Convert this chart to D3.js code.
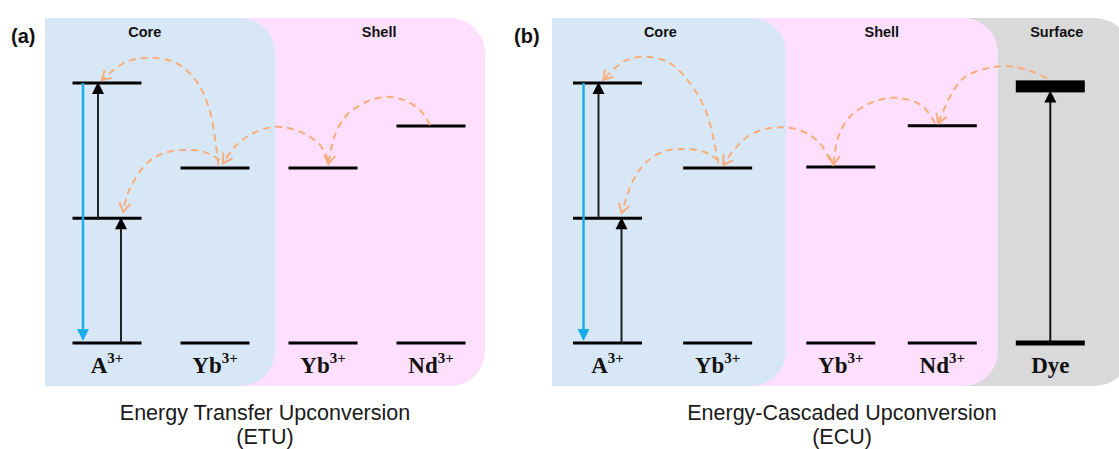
<!DOCTYPE html>
<html><head><meta charset="utf-8">
<script src="https://cdn.jsdelivr.net/npm/d3@7"></script>
<style>body{margin:0;background:#fff;} svg{display:block}</style>
</head><body>
<script>
// ---------------- data ----------------
// panel (a) ETU
const panelTagA = "(a)";
const speciesA = ["A", "Yb", "Yb", "Nd"];
const chargeA = ["3+", "3+", "3+", "3+"];
const columnA = [0, 1, 2, 3];                 // column position units
const levelsA = [[0, 48, 100], [0, 67.3], [0, 67.3], [0, 83.5]]; // energy units
const regionsA = ["Core", "Shell"];
const regionTitleColA = [0.35, 2.52];
// energy-transfer paths: [column units, energy units]
const arcA1 = [[1.031, 68.5], [0.954, 89.0], [0.831, 100.5], [0.645, 107.6], [0.398, 109.7], [0.182, 108.2], [-0.049, 101.2]];
const arcA2 = [[1.046, 70.4], [0.892, 73.6], [0.706, 74.2], [0.521, 73.0], [0.368, 69.1], [0.244, 62.0], [0.182, 56.3], [0.151, 50.4]];
const arcA3 = [[2.049, 70.4], [1.972, 76.2], [1.818, 80.7], [1.571, 83.2], [1.355, 80.7], [1.201, 76.2], [1.074, 69.2]];
const arcA4 = [[2.991, 83.8], [2.898, 89.6], [2.744, 93.5], [2.590, 94.7], [2.405, 92.8], [2.220, 87.7], [2.111, 80.0], [2.049, 68.8]];
const captionA = ["Energy Transfer Upconversion", "(ETU)"];

// panel (b) ECU
const panelTagB = "(b)";
const speciesB = ["A", "Yb", "Yb", "Nd", "Dye"];
const chargeB = ["3+", "3+", "3+", "3+", ""];
const columnB = [0, 1.02, 2.16, 3.1, 4.1];
const levelsB = [[0, 48, 100], [0, 67.3], [0, 67.7], [0, 83.6], [0, 98.7]];
const regionsB = ["Core", "Shell", "Surface"];
const regionTitleColB = [0.49, 2.54, 4.16];
const arcB1 = [[1.026, 69.1], [0.919, 88.3], [0.764, 99.9], [0.579, 107.6], [0.363, 110.1], [0.146, 108.2], [-0.039, 101.2]];
const arcB2 = [[1.026, 70.4], [0.887, 73.6], [0.702, 74.6], [0.517, 73.6], [0.363, 69.7], [0.239, 62.7], [0.131, 50.0]];
const arcB3 = [[2.060, 70.4], [1.968, 76.8], [1.813, 81.3], [1.597, 83.0], [1.350, 80.7], [1.196, 75.5], [1.072, 68.5]];
const arcB4 = [[3.032, 84.5], [2.924, 90.9], [2.770, 93.7], [2.616, 94.3], [2.431, 92.2], [2.245, 87.0], [2.137, 79.3], [2.091, 68.5]];
const arcB5 = [[4.067, 101.8], [3.912, 104.7], [3.697, 106.5], [3.480, 105.3], [3.294, 101.8], [3.171, 94.7], [3.063, 84.5]];
const captionB = ["Energy-Cascaded Upconversion", "(ECU)"];

// transitions: [fromEnergy, toEnergy]
const pumpA = [[0, 48], [48, 100]];
const emissionA = [[100, 0]];
const pumpDye = [[0, 98.7]];

// ---------------- drawing ----------------
const W = 1119, H = 449;
const svg = d3.select("body").append("svg").attr("width", W).attr("height", H)
  .style("font-family", "'Liberation Sans', Arial, sans-serif");

const orange = "#f7ae7c", blueLine = "#16ade9";
const regionFill = {Core: "#d8e7f5", Shell: "#fedffd", Surface: "#d9d9d9"};

const y = d3.scaleLinear().domain([0, 100]).range([343, 83]);

const defs = svg.append("defs");
defs.append("marker").attr("id", "chev")
  .attr("viewBox", "-12 -8 14 16").attr("refX", 0).attr("refY", 0)
  .attr("markerWidth", 14).attr("markerHeight", 16)
  .attr("markerUnits", "userSpaceOnUse").attr("orient", "auto")
  .append("path").attr("d", "M-9,-5.5L0,0L-9,5.5")
  .attr("fill", "none").attr("stroke", orange).attr("stroke-width", 2)
  .attr("stroke-linejoin", "miter");

function roundRight(x0, x1, y0, y1, r) {
  return `M${x0},${y0}H${x1 - r}A${r},${r} 0 0 1 ${x1},${y0 + r}V${y1 - r}A${r},${r} 0 0 1 ${x1 - r},${y1}H${x0}Z`;
}

function drawPanel(cfg) {
  const g = svg.append("g");
  const x = d3.scaleLinear().domain([0, 1]).range([cfg.x0, cfg.x0 + 108]);
  const halfW = 34.5;

  // background regions (drawn back to front)
  const regs = cfg.regions.map((name, i) => ({name, i, x0: cfg.regionX[i][0], x1: cfg.regionX[i][1]}));
  g.selectAll("path.region").data(regs.slice().reverse()).join("path")
    .attr("class", "region")
    .attr("d", d => roundRight(d.x0, d.x1, 18, 386, 35))
    .attr("fill", d => regionFill[d.name]);

  g.selectAll("text.rtitle").data(regs).join("text")
    .attr("class", "rtitle")
    .attr("x", d => x(cfg.titleCols[d.i])).attr("y", 36.5)
    .attr("text-anchor", "middle").attr("font-weight", "bold")
    .attr("font-size", 14.5).attr("fill", "#111").text(d => d.name);

  // panel tag
  g.append("text").attr("x", cfg.tagX).attr("y", 43)
    .attr("font-weight", "bold").attr("font-size", 20).attr("fill", "#111").text(cfg.tag);

  // energy levels
  const lv = [];
  cfg.levels.forEach((arr, si) => arr.forEach(e => lv.push({si, e, sp: cfg.species[si]})));
  g.selectAll("line.level").data(lv.filter(d => d.sp !== "Dye")).join("line")
    .attr("class", "level")
    .attr("x1", d => x(cfg.cols[d.si]) - halfW).attr("x2", d => x(cfg.cols[d.si]) + halfW)
    .attr("y1", d => y(d.e)).attr("y2", d => y(d.e))
    .attr("stroke", "#000").attr("stroke-width", 3);

  // dye levels (thick bars)
  const dyeIdx = cfg.species.indexOf("Dye");
  if (dyeIdx >= 0) {
    const dl = cfg.levels[dyeIdx];
    const cx = x(cfg.cols[dyeIdx]);
    cfg.pumpDye.forEach(p => {
      g.append("line").attr("x1", cx).attr("x2", cx).attr("y1", y(p[0])).attr("y2", y(p[1]) + 14)
        .attr("stroke", "#111").attr("stroke-width", 2);
      const ty = y(p[1]) + 4;
      g.append("path").attr("d", `M${cx},${ty}L${cx - 6},${ty + 12}L${cx + 6},${ty + 12}Z`).attr("fill", "#000");
    });
    g.selectAll("rect.dye").data(dl).join("rect").attr("class", "dye")
      .attr("x", cx - halfW).attr("width", 2 * halfW)
      .attr("y", (d, i) => y(d) - (i === 0 ? 2.5 : 6)).attr("height", (d, i) => i === 0 ? 5 : 12)
      .attr("fill", "#000");
  }

  // activator transitions
  const ax = x(cfg.cols[0]);
  const pumpOffsets = [14, -9];
  cfg.pump.forEach((p, i) => {
    const px = ax + pumpOffsets[i];
    g.append("line").attr("x1", px).attr("x2", px).attr("y1", y(p[0])).attr("y2", y(p[1]) + 10)
      .attr("stroke", "#222").attr("stroke-width", 2);
    const ty = y(p[1]) - 1;
    g.append("path").attr("d", `M${px},${ty}L${px - 6},${ty + 12}L${px + 6},${ty + 12}Z`).attr("fill", "#000");
  });
  cfg.emission.forEach(p => {
    const px = ax - 24;
    g.append("line").attr("x1", px).attr("x2", px).attr("y1", y(p[0])).attr("y2", y(p[1]) - 10)
      .attr("stroke", blueLine).attr("stroke-width", 2.5);
    const ty = y(p[1]) - 2;
    g.append("path").attr("d", `M${px},${ty}L${px - 6},${ty - 12}L${px + 6},${ty - 12}Z`).attr("fill", blueLine);
  });

  // energy transfer arcs
  const line = d3.line().x(d => x(d[0])).y(d => y(d[1])).curve(d3.curveCatmullRom.alpha(0.5));
  g.selectAll("path.arc").data(cfg.arcs).join("path").attr("class", "arc")
    .attr("d", line).attr("fill", "none").attr("stroke", orange)
    .attr("stroke-width", 2).attr("stroke-dasharray", "7,5")
    .attr("marker-end", "url(#chev)");

  // species labels
  const lab = g.selectAll("text.sp").data(cfg.species).join("text").attr("class", "sp")
    .attr("x", (d, i) => x(cfg.cols[i])).attr("y", 373)
    .attr("text-anchor", "middle")
    .style("font-family", "'Liberation Serif', 'Times New Roman', serif")
    .attr("font-weight", "bold").attr("font-size", 23).attr("fill", "#111");
  lab.append("tspan").text(d => d);
  lab.append("tspan").attr("font-size", 15).attr("dy", -10).text((d, i) => cfg.charge[i]);

  // caption
  g.selectAll("text.cap").data(cfg.caption).join("text").attr("class", "cap")
    .attr("x", cfg.capX).attr("y", (d, i) => 419.5 + i * 24)
    .attr("text-anchor", "middle").attr("font-size", 21.5).attr("fill", "#1a1a1a").text(d => d);
}

drawPanel({
  x0: 107, tag: panelTagA, tagX: 11, species: speciesA, charge: chargeA, cols: columnA,
  levels: levelsA, regions: regionsA, regionX: [[45, 275], [180, 485]], titleCols: regionTitleColA,
  arcs: [arcA1, arcA2, arcA3, arcA4], pump: pumpA, emission: emissionA, pumpDye: [],
  caption: captionA, capX: 265
});
drawPanel({
  x0: 607.5, tag: panelTagB, tagX: 514, species: speciesB, charge: chargeB, cols: columnB,
  levels: levelsB, regions: regionsB, regionX: [[552, 786], [700, 998], [950, 1130]], titleCols: regionTitleColB,
  arcs: [arcB1, arcB2, arcB3, arcB4, arcB5], pump: pumpA, emission: emissionA, pumpDye: pumpDye,
  caption: captionB, capX: 842
});
</script>
</body></html>
